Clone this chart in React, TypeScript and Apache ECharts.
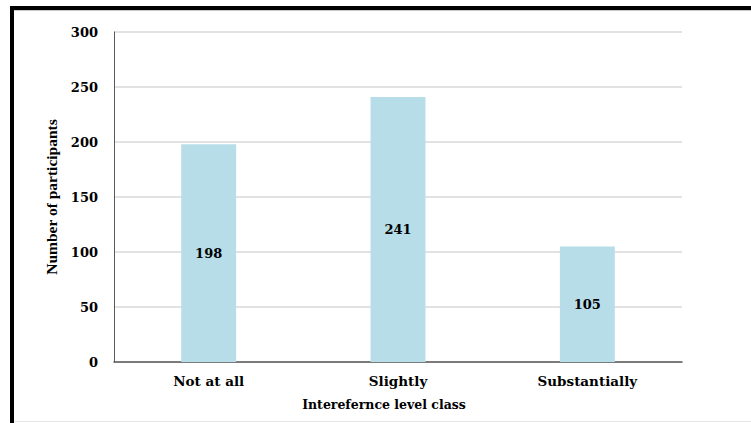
import React, { useEffect, useRef } from "react";
import * as echarts from "echarts";

const categories = ["Not at all", "Slightly", "Substantially"];
const values = [198, 241, 105];
const yTicks = [0, 50, 100, 150, 200, 250, 300];

const SERIF = '"Liberation Serif", "Times New Roman", serif';
const WIDE = '"DejaVu Serif", serif';

export default function App() {
  const ref = useRef<HTMLDivElement>(null);
  useEffect(() => {
    const chart = echarts.init(ref.current!, null, { renderer: "svg" });
    chart.setOption({
      animation: false,
      backgroundColor: "#ffffff",
      grid: { left: 114, top: 32, right: 69, bottom: 61, containLabel: false },
      xAxis: {
        type: "category",
        data: categories,
        name: "Interefernce level class",
        nameLocation: "middle",
        nameGap: 36,
        nameTextStyle: { fontFamily: WIDE, fontWeight: "bold", fontSize: 12.5, color: "#000", padding: [0, 28, 0, 0] },
        axisLine: { lineStyle: { color: "#595959", width: 1.5 } },
        axisTick: { show: false },
        axisLabel: { fontFamily: WIDE, fontWeight: "bold", fontSize: 13.5, color: "#000", margin: 12 },
      },
      yAxis: {
        type: "value",
        min: yTicks[0],
        max: yTicks[yTicks.length - 1],
        interval: 50,
        name: "Number of participants",
        nameLocation: "middle",
        nameGap: 52,
        nameRotate: 90,
        nameTextStyle: { fontFamily: SERIF, fontWeight: "bold", fontSize: 15.5, color: "#000" },
        axisLine: { show: true, lineStyle: { color: "#595959", width: 1 } },
        axisTick: { show: false },
        axisLabel: { fontFamily: WIDE, fontWeight: "bold", fontSize: 13, color: "#000", margin: 16 },
        splitLine: { lineStyle: { color: "#d9d9d9", width: 1.5 } },
      },
      series: [
        {
          type: "bar",
          data: values,
          barWidth: "29%",
          itemStyle: { color: "#b7dde8" },
          label: {
            show: true,
            position: "inside",
            fontFamily: WIDE,
            fontWeight: "bold",
            fontSize: 13,
            color: "#000",
          },
        },
      ],
      graphic: [
        { type: "rect", shape: { x: 10, y: 6, width: 741, height: 4 }, style: { fill: "#000" }, silent: true },
        { type: "rect", shape: { x: 10, y: 6, width: 4, height: 420 }, style: { fill: "#000" }, silent: true },
        { type: "rect", shape: { x: 14, y: 10, width: 737, height: 1 }, style: { fill: "#c8c8c8" }, silent: true },
        { type: "rect", shape: { x: 14, y: 421, width: 737, height: 1 }, style: { fill: "#e6e6e6" }, silent: true },
      ],
    });
    return () => chart.dispose();
  }, []);
  return (
    <div
      ref={ref}
      style={{ position: "fixed", left: 0, top: 0, width: 751, height: 423 }}
    />
  );
}
